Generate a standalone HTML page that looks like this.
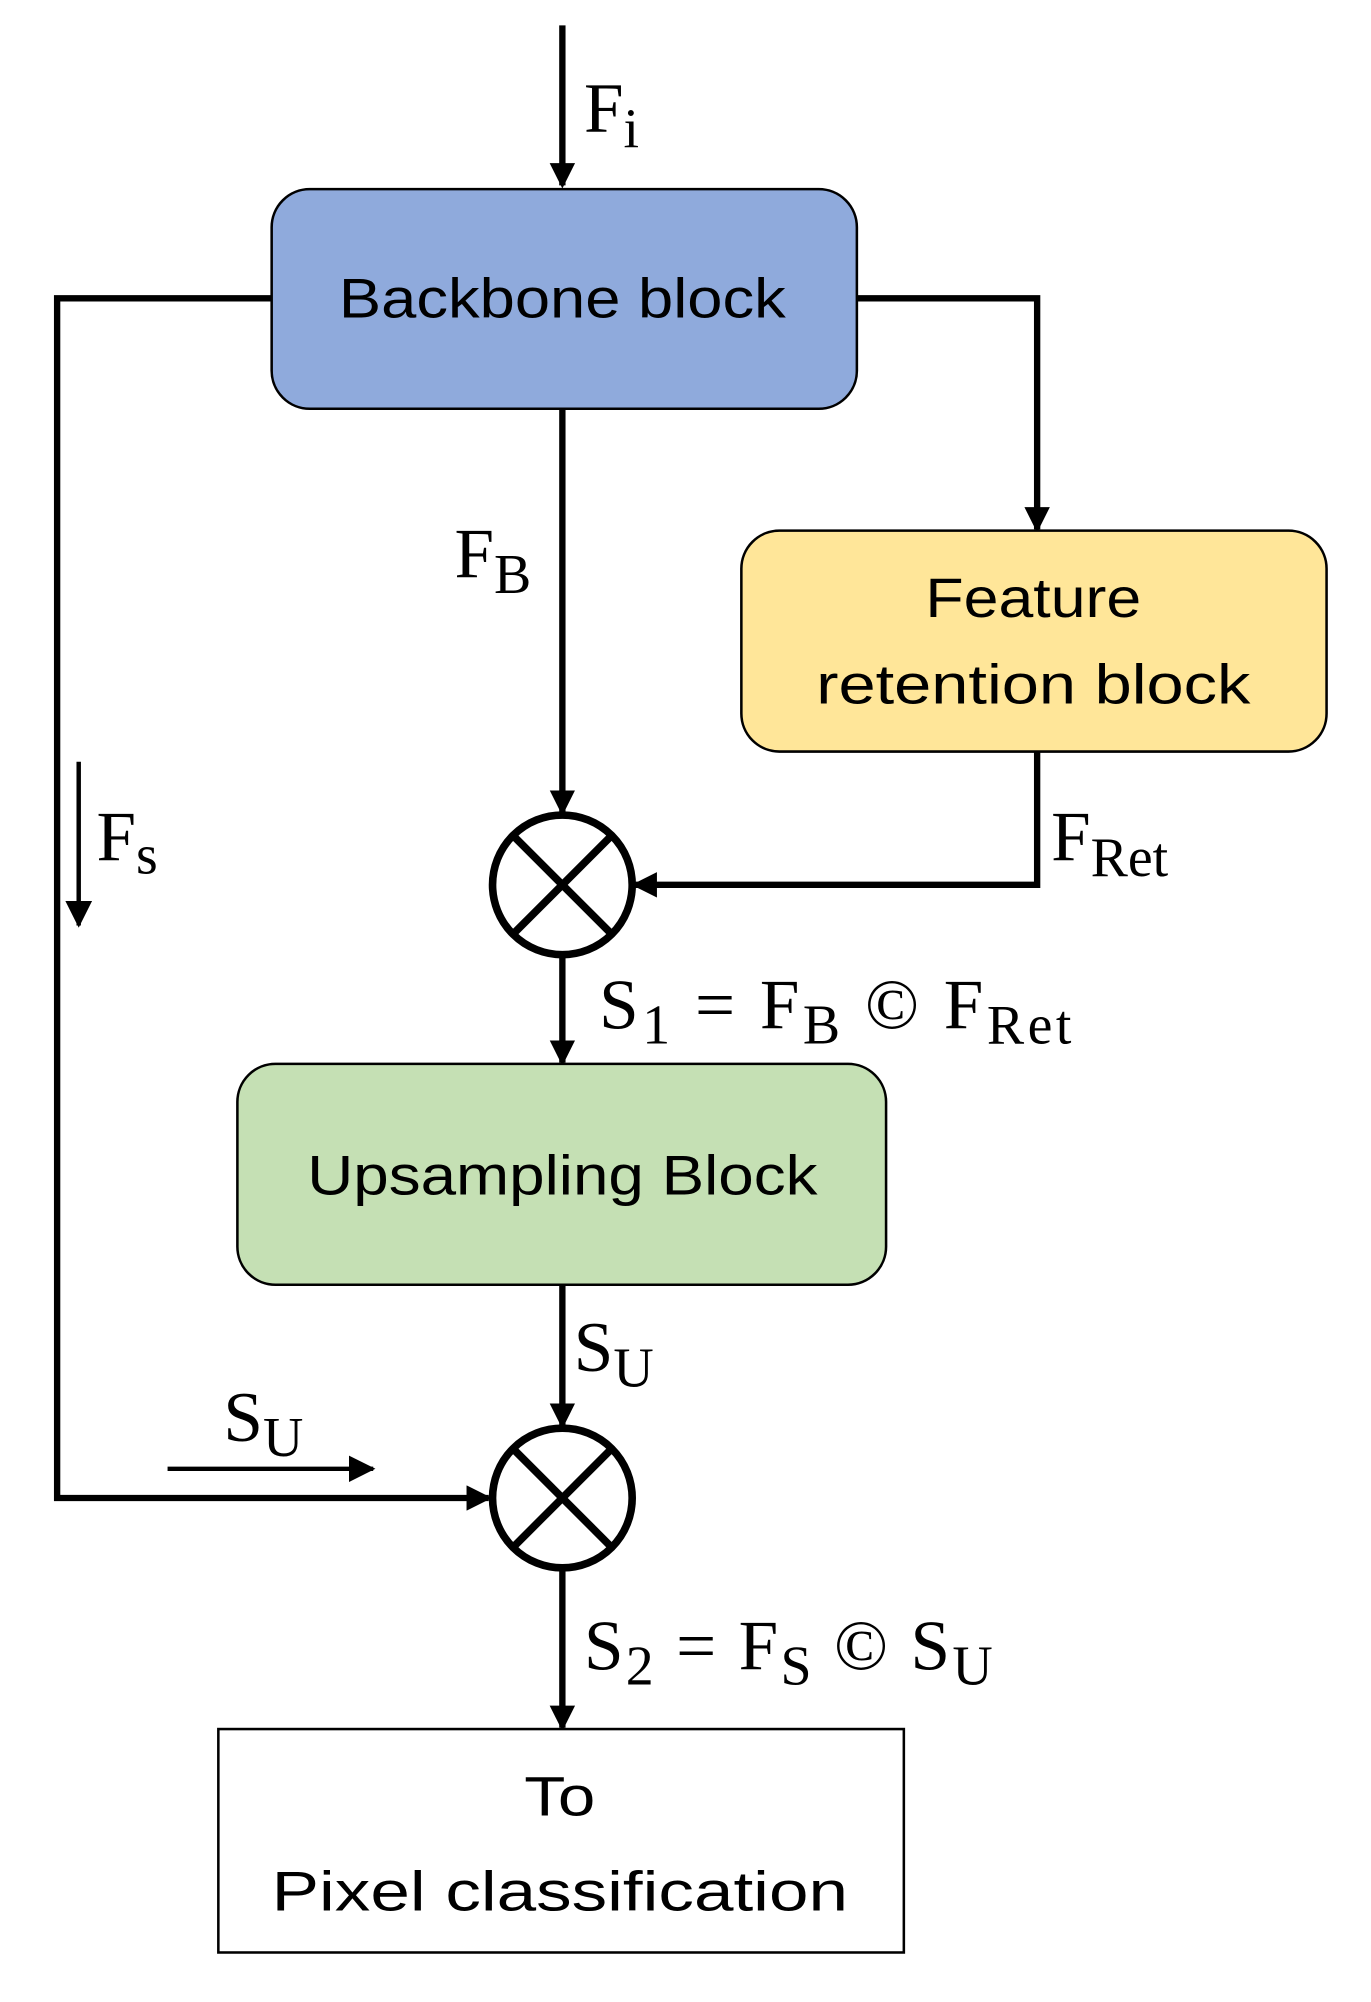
<!DOCTYPE html>
<html><head><style>html,body{margin:0;padding:0;background:#fff}svg{display:block}</style></head>
<body>
<svg width="1371" height="2002" viewBox="0 0 1080 1577" preserveAspectRatio="none" xmlns="http://www.w3.org/2000/svg">
<defs><marker id="a" markerWidth="4" markerHeight="4" refX="3.5" refY="2" orient="auto" markerUnits="strokeWidth"><path d="M0,0 L4,2 L0,4 z" fill="#000"/></marker>
<marker id="b" markerWidth="6" markerHeight="6" refX="5.5" refY="3" orient="auto" markerUnits="strokeWidth"><path d="M0,0 L6,3 L0,6 z" fill="#000"/></marker></defs>
<g stroke="#000" stroke-width="5" fill="none">
<line x1="443" y1="20" x2="443" y2="146" marker-end="url(#a)"/>
<polyline points="214,235 45,235 45,1180 385,1180" marker-end="url(#a)"/>
<polyline points="675,235 817,235 817,417" marker-end="url(#a)"/>
<line x1="443" y1="322" x2="443" y2="640" marker-end="url(#a)"/>
<polyline points="817,592 817,697 500,697" marker-end="url(#a)"/>
<line x1="443" y1="753" x2="443" y2="837" marker-end="url(#a)"/>
<line x1="443" y1="1012" x2="443" y2="1123" marker-end="url(#a)"/>
<line x1="443" y1="1237" x2="443" y2="1361" marker-end="url(#a)"/>
</g>
<g stroke="#000" stroke-width="3.5" fill="none">
<line x1="132" y1="1157" x2="294" y2="1157" marker-end="url(#b)"/>
<line x1="62" y1="600" x2="62" y2="729" marker-end="url(#b)"/>
</g>
<rect x="214" y="149" width="461" height="173" rx="30" fill="#8faadc" stroke="#000" stroke-width="2"/>
<rect x="584" y="418" width="461" height="174" rx="30" fill="#ffe699" stroke="#000" stroke-width="2"/>
<rect x="187" y="838" width="511" height="174" rx="30" fill="#c5e0b4" stroke="#000" stroke-width="2"/>
<rect x="172" y="1362" width="540" height="176" fill="#fff" stroke="#000" stroke-width="2"/>
<g stroke="#000" stroke-width="6" fill="none">
<circle cx="443" cy="697" r="55"/>
<line x1="404" y1="658" x2="482" y2="736"/><line x1="482" y1="658" x2="404" y2="736"/>
<circle cx="443" cy="1180" r="55"/>
<line x1="404" y1="1141" x2="482" y2="1219"/><line x1="482" y1="1141" x2="404" y2="1219"/>
</g>
<g font-family="'Liberation Sans',sans-serif" font-size="44" text-anchor="middle" fill="#000">
<text x="443" y="250" textLength="352" lengthAdjust="spacingAndGlyphs">Backbone block</text>
<text x="814" y="486" textLength="170" lengthAdjust="spacingAndGlyphs">Feature</text>
<text x="814" y="554" textLength="342" lengthAdjust="spacingAndGlyphs">retention block</text>
<text x="443" y="941" textLength="402" lengthAdjust="spacingAndGlyphs">Upsampling Block</text>
<text x="441" y="1430" textLength="56" lengthAdjust="spacingAndGlyphs">To</text>
<text x="441" y="1505" textLength="454" lengthAdjust="spacingAndGlyphs">Pixel classification</text>
</g>
<g font-family="'Liberation Serif',serif" font-size="56" fill="#000">
<text x="460" y="104">F<tspan font-size="44" dy="12">i</tspan></text>
<text x="358" y="455">F<tspan font-size="44" dy="12">B</tspan></text>
<text x="76" y="678">F<tspan font-size="44" dy="10">s</tspan></text>
<text x="828" y="678">F<tspan font-size="44" dy="12">Ret</tspan></text>
<text x="472" y="810" textLength="372" lengthAdjust="spacing">S<tspan font-size="44" dy="12">1</tspan><tspan dy="-12"> = F</tspan><tspan font-size="44" dy="12">B</tspan><tspan dy="-12"> © F</tspan><tspan font-size="44" dy="12">Ret</tspan></text>
<text x="452" y="1080">S<tspan font-size="44" dy="12">U</tspan></text>
<text x="176" y="1135">S<tspan font-size="44" dy="12">U</tspan></text>
<text x="460" y="1315" textLength="322" lengthAdjust="spacing">S<tspan font-size="44" dy="12">2</tspan><tspan dy="-12"> = F</tspan><tspan font-size="44" dy="12">S</tspan><tspan dy="-12"> © S</tspan><tspan font-size="44" dy="12">U</tspan></text>
</g>
</svg>
</body></html>
